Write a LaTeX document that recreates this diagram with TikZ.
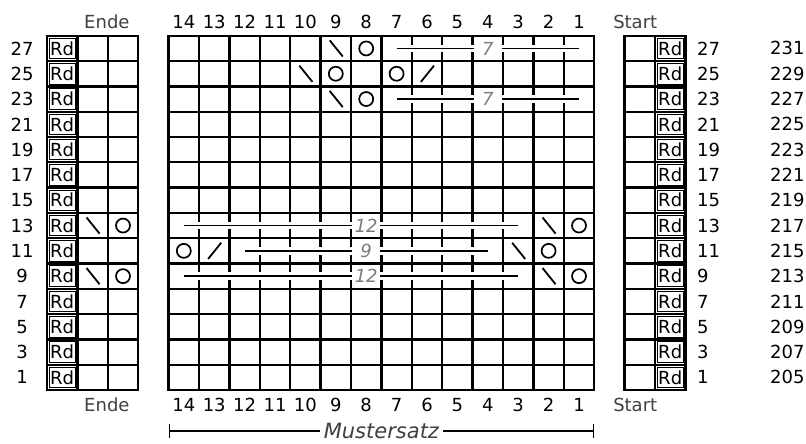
\documentclass[tikz,border=0pt]{standalone}
\usepackage{fontspec}
\setmainfont{DejaVu Sans}
\usetikzlibrary{arrows.meta,positioning}
\definecolor{chartgray}{RGB}{64,64,64}
\definecolor{repgray}{RGB}{125,125,125}
\tikzset{
  gridline/.style={line width=2.3pt, line cap=rect},
  rdbox/.style={draw, line width=0.9pt, minimum width=26pt, minimum height=20.5pt, inner sep=0pt, font=\fontsize{18}{18}\selectfont},
  numlabel/.style={inner sep=0pt, font=\fontsize{18}{18}\selectfont},
  sidelabel/.style={numlabel, text=chartgray},
  yarnover/.style={draw, circle, line width=1.7pt, minimum size=14pt, inner sep=0pt},
  decline/.style={line width=1.8pt},
  repline/.style={line width=1.8pt, preaction={draw=white, line width=7.5pt}},
  replabel/.style={fill=white, inner xsep=0pt, inner ysep=0.5pt, minimum width=28pt, text=repgray, font=\fontsize{18}{18}\selectfont\itshape}
}
\begin{document}
\begin{tikzpicture}[x=30.4pt, y=25.3pt]
  \useasboundingbox (-1.546,-2.134) rectangle (24.967,15.415);

  %--- grids: edge (Ende), pattern repeat, edge (Start) ---
  \foreach \i in {0,...,3} \draw[gridline] (\i,0) -- (\i,14);
  \foreach \j in {0,...,14} \draw[gridline] (0,\j) -- (3,\j);
  \foreach \i in {4,...,18} \draw[gridline] (\i,0) -- (\i,14);
  \foreach \j in {0,...,14} \draw[gridline] (4,\j) -- (18,\j);
  \foreach \i in {19,...,21} \draw[gridline] (\i,0) -- (\i,14);
  \foreach \j in {0,...,14} \draw[gridline] (19,\j) -- (21,\j);

  %--- edge stitches and row numbers ---
  \foreach \r in {0,...,13} {
    \pgfmathtruncatemacro{\lab}{2*\r+1}
    \pgfmathtruncatemacro{\tot}{205+2*\r}
    \node[rdbox] (rdL-\lab) at (0.5,\r+0.5) {Rd};
    \node[rdbox] (rdR-\lab) at (20.5,\r+0.5) {Rd};
    \node[numlabel] (lrow-\lab) at (-0.82,\r+0.5) {\lab};
    \node[numlabel, anchor=west] (rrow-\lab) at (21.38,\r+0.5) {\lab};
    \node[numlabel, anchor=west] (rtot-\tot) at (23.78,\r+0.5) {\tot};
  }

  %--- column numbers ---
  \foreach \c in {1,...,14} {
    \node[numlabel] (ctop-\c) at (18.5-\c,14.55) {\c};
    \node[numlabel] (cbot-\c) at (18.5-\c,-0.59) {\c};
  }
  \node[sidelabel] (ende-top) at (1.97,14.55) {Ende};
  \node[sidelabel] (ende-bot) at (1.97,-0.59) {Ende};
  \node[sidelabel, anchor=west] (start-top) at (18.62,14.55) {Start};
  \node[sidelabel, anchor=west] (start-bot) at (18.62,-0.59) {Start};

  %--- edge block: rows 13 and 9 ---
  \foreach \r in {4,6} {
    \draw[decline] (1.5,\r+0.5) ++(-0.2,0.32) -- ++(0.43,-0.64);
    \node[yarnover] (yoL-\r) at (2.5,\r+0.5) {};
  }

  %--- rows 27 and 23 ---
  \foreach \r in {11,13} {
    \draw[decline] (9.5,\r+0.5) ++(-0.2,0.32) -- ++(0.43,-0.64);
    \node[yarnover] (yo-\r) at (10.5,\r+0.5) {};
    \coordinate (rep\r-s) at (11.5,\r+0.5);
    \coordinate (rep\r-e) at (17.5,\r+0.5);
    \node[replabel] (rep\r) at (14.5,\r+0.5) {7};
    \draw[repline] (rep\r-s) -- (rep\r);
    \draw[repline] (rep\r) -- (rep\r-e);
  }

  % row 25
  \draw[decline] (8.5,12.5) ++(-0.2,0.32) -- ++(0.43,-0.64);
  \node[yarnover] (yo-25a) at (9.5,12.5) {};
  \node[yarnover] (yo-25b) at (11.5,12.5) {};
  \draw[decline] (12.5,12.5) ++(-0.2,-0.32) -- ++(0.43,0.64);

  %--- rows 13 and 9 ---
  \foreach \r in {4,6} {
    \coordinate (rep\r-s) at (4.5,\r+0.5);
    \coordinate (rep\r-e) at (15.5,\r+0.5);
    \node[replabel] (rep\r) at (10.5,\r+0.5) {12};
    \draw[repline] (rep\r-s) -- (rep\r);
    \draw[repline] (rep\r) -- (rep\r-e);
    \draw[decline] (16.5,\r+0.5) ++(-0.2,0.32) -- ++(0.43,-0.64);
    \node[yarnover] (yoR-\r) at (17.5,\r+0.5) {};
  }

  % row 11
  \node[yarnover] (yo-11a) at (4.5,5.5) {};
  \draw[decline] (5.5,5.5) ++(-0.2,-0.32) -- ++(0.43,0.64);
  \coordinate (rep5-s) at (6.5,5.5);
  \coordinate (rep5-e) at (14.5,5.5);
  \node[replabel] (rep5) at (10.5,5.5) {9};
  \draw[repline] (rep5-s) -- (rep5);
  \draw[repline] (rep5) -- (rep5-e);
  \draw[decline] (15.5,5.5) ++(-0.2,0.32) -- ++(0.43,-0.64);
  \node[yarnover] (yo-11b) at (16.5,5.5) {};

  %--- pattern repeat ---
  \coordinate (ms-s) at (4,-1.62);
  \coordinate (ms-e) at (18,-1.62);
  \node[fill=white, inner xsep=4pt, inner ysep=0pt, text=chartgray, font=\fontsize{21}{21}\selectfont\itshape] (muster) at (11,-1.62) {Mustersatz};
  \draw[line width=1.6pt, {Bar[width=14pt]}-] (ms-s) -- (muster);
  \draw[line width=1.6pt, -{Bar[width=14pt]}] (muster) -- (ms-e);
\end{tikzpicture}
\end{document}
